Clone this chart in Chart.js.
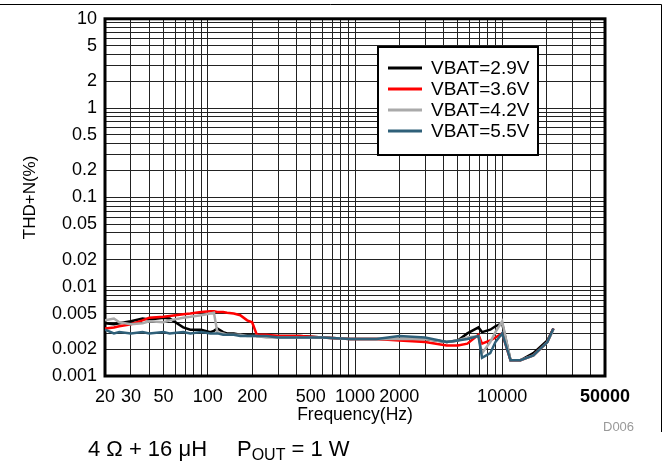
<!DOCTYPE html>
<html>
<head>
<meta charset="utf-8">
<script src="https://cdn.jsdelivr.net/npm/chart.js@4.4.1/dist/chart.umd.min.js"></script>
<style>
  body { margin: 0; background: #fff; }
  canvas { display: block; }
</style>
</head>
<body>
<canvas id="thd" width="664" height="461"></canvas>
<script>
// frequency points (Hz) shared by all curves
const freqHz = [20, 23, 25, 30, 36, 40, 50, 55, 68, 76, 90, 104, 110, 116, 127, 135, 150, 166, 185, 200,
    215, 250, 300, 424, 600, 930, 1400, 2000, 3000, 4200, 5000, 5800, 6900, 7300, 8300, 9000, 10000,
    11400, 13300, 16300, 20300, 22300];

// THD+N (%)
const thd29 = [0.0039, 0.0038, 0.0039, 0.0041, 0.0044, 0.0043, 0.0045, 0.0044, 0.0035, 0.0033, 0.0033,
    0.0031, 0.0032, 0.0034, 0.0031, 0.0030, 0.0030, 0.0029, 0.0029, 0.0029, 0.0028, 0.0028, 0.0028,
    0.0028, 0.0027, 0.0026, 0.0026, 0.0026, 0.0026, 0.0024, 0.0025, 0.0030, 0.0035, 0.0031, 0.0033,
    0.0036, 0.0039, 0.0015, 0.0015, 0.0018, 0.0025, 0.0034];
const thd36 = [0.0034, 0.0035, 0.0036, 0.0038, 0.0042, 0.0045, 0.0046, 0.0047, 0.0049, 0.0050, 0.0052,
    0.0053, 0.0053, 0.0052, 0.0052, 0.0051, 0.0050, 0.0048, 0.0042, 0.0040, 0.0029, 0.0029, 0.0028,
    0.0028, 0.0027, 0.0026, 0.0026, 0.0025, 0.0024, 0.0022, 0.0022, 0.0023, 0.0029, 0.0023, 0.0025,
    0.0027, 0.0030, 0.0015, 0.0015, 0.0017, 0.0024, 0.0034];
const thd42 = [0.0042, 0.0044, 0.0040, 0.0038, 0.0039, 0.0041, 0.0040, 0.0042, 0.0045, 0.0046, 0.0048,
    0.0050, 0.0051, 0.0031, 0.0030, 0.0029, 0.0029, 0.0029, 0.0028, 0.0028, 0.0028, 0.0027, 0.0027,
    0.0027, 0.0027, 0.0026, 0.0026, 0.0026, 0.0026, 0.0024, 0.0025, 0.0027, 0.0028, 0.0018, 0.0024,
    0.0031, 0.0041, 0.0015, 0.0015, 0.0017, 0.0024, 0.0033];
const thd55 = [0.0033, 0.0030, 0.0031, 0.0030, 0.0031, 0.0030, 0.0031, 0.0030, 0.0031, 0.0030, 0.0031,
    0.0030, 0.0030, 0.0030, 0.0029, 0.0029, 0.0029, 0.0028, 0.0028, 0.0028, 0.0028, 0.0028, 0.0027,
    0.0027, 0.0027, 0.0026, 0.0026, 0.0028, 0.0027, 0.0024, 0.0025, 0.0026, 0.0028, 0.0016, 0.0018,
    0.0024, 0.0030, 0.0015, 0.0015, 0.0017, 0.0024, 0.0034];

const seriesNames = ["VBAT=2.9V", "VBAT=3.6V", "VBAT=4.2V", "VBAT=5.5V"];

// tick labels
const xLabels = [20, 30, 50, 100, 200, 500, 1000, 2000, 10000, 50000];
const yLabels = [10, 5, 2, 1, 0.5, 0.2, 0.1, 0.05, 0.02, 0.01, 0.005, 0.002, 0.001];

const FONT = "'Liberation Sans', Arial, Helvetica, sans-serif";

// 1..9 per decade grid positions
function decadeGrid(lo, hi) {
    const out = [];
    for (let e = lo; e < hi; e++) {
        for (let m = 1; m <= 9; m++) out.push(Number((m * Math.pow(10, e)).toPrecision(3)));
    }
    out.push(Math.pow(10, hi));
    return out;
}
const xGrid = decadeGrid(1, 5).filter(v => v >= 20 && v <= 50000);
const yGrid = decadeGrid(-3, 1);

function pts(vals) {
    return freqHz.map((f, i) => ({ x: f, y: vals[i] }));
}

// frame, legend and caption
const decor = {
    id: "decor",
    beforeDatasetsDraw(chart) {
        const a = chart.chartArea, c = chart.ctx;
        c.save();
        c.strokeStyle = "#000";
        c.lineWidth = 3;
        c.strokeRect(a.left, a.top, a.right - a.left, a.bottom - a.top);
        c.restore();
    },
    afterDraw(chart) {
        const c = chart.ctx;
        c.save();
        // outer lines
        c.strokeStyle = "#000";
        c.lineWidth = 1;
        c.beginPath();
        c.moveTo(0, 4.5); c.lineTo(661.5, 4.5); c.lineTo(661.5, 432);
        c.stroke();

        // legend
        const lx = 378, ly = 47, lw = 160, lh = 108;
        c.fillStyle = "#fff";
        c.fillRect(lx, ly, lw, lh);
        c.lineWidth = 2;
        c.strokeRect(lx, ly, lw, lh);
        c.font = "19px " + FONT;
        c.textBaseline = "middle";
        chart.data.datasets.forEach((ds, i) => {
            const y = ly + 21 + i * 21;
            c.strokeStyle = ds.borderColor;
            c.lineWidth = 3;
            c.beginPath();
            c.moveTo(lx + 10, y); c.lineTo(lx + 44, y);
            c.stroke();
            c.fillStyle = "#000";
            c.fillText(ds.label, lx + 53, y + 1);
        });

        // code id
        c.fillStyle = "#999";
        c.font = "13px " + FONT;
        c.fillText("D006", 603, 427);

        // caption
        c.fillStyle = "#000";
        c.font = "22px " + FONT;
        c.textBaseline = "alphabetic";
        let x = 88;
        const base = 456;
        c.fillText("4 \u03A9 + 16 \u03BCH", x, base);
        x = 237;
        c.fillText("P", x, base);
        x += c.measureText("P").width;
        c.font = "16px " + FONT;
        c.fillText("OUT", x, base + 4);
        x += c.measureText("OUT").width;
        c.font = "22px " + FONT;
        c.fillText(" = 1 W", x, base);
        c.restore();
    }
};

const chart = new Chart("thd", {
    type: "line",
    data: {
        datasets: [
            { label: seriesNames[0], data: pts(thd29), borderColor: "#000000", order: 3 },
            { label: seriesNames[1], data: pts(thd36), borderColor: "#ff0000", order: 2 },
            { label: seriesNames[2], data: pts(thd42), borderColor: "#aaaaaa", order: 1 },
            { label: seriesNames[3], data: pts(thd55), borderColor: "#2f6079", order: 0 }
        ]
    },
    options: {
        responsive: false,
        animation: false,
        parsing: false,
        elements: {
            line: { borderWidth: 2.5, tension: 0, fill: false },
            point: { radius: 0 }
        },
        layout: { padding: { left: 0, right: 59, top: 18, bottom: 35 } },
        plugins: { legend: { display: false }, tooltip: { enabled: false } },
        scales: {
            x: {
                type: "logarithmic",
                min: 20,
                max: 50000,
                afterBuildTicks: s => { s.ticks = xGrid.map(v => ({ value: v })); },
                afterFit: s => { s.height = 50; },
                grid: { color: "#222", lineWidth: 1, drawTicks: false },
                border: { display: false },
                ticks: {
                    autoSkip: false,
                    maxRotation: 0,
                    padding: 10,
                    color: "#000",
                    font: c => ({ family: FONT, size: 18, weight: (c.tick && c.tick.value === 50000) ? "bold" : "normal" }),
                    callback: v => xLabels.includes(v) ? String(v) : ""
                },
                title: {
                    display: true,
                    text: "Frequency(Hz)",
                    color: "#000",
                    font: { family: FONT, size: 17.5 },
                    padding: { top: 0, bottom: 0 }
                }
            },
            y: {
                type: "logarithmic",
                min: 0.001,
                max: 10,
                afterBuildTicks: s => { s.ticks = yGrid.map(v => ({ value: v })); },
                afterFit: s => { s.width = 105; },
                grid: { color: "#222", lineWidth: 1, drawTicks: false },
                border: { display: false },
                ticks: {
                    autoSkip: false,
                    padding: 8,
                    color: "#000",
                    font: { family: FONT, size: 18 },
                    callback: v => {
                        const r = Number(Number(v).toPrecision(3));
                        return yLabels.includes(r) ? String(r) : "";
                    }
                },
                title: {
                    display: true,
                    text: "THD+N(%)",
                    color: "#000",
                    font: { family: FONT, size: 17 },
                    padding: { top: 20, bottom: 0 }
                }
            }
        }
    },
    plugins: [decor]
});
</script>
</body>
</html>
